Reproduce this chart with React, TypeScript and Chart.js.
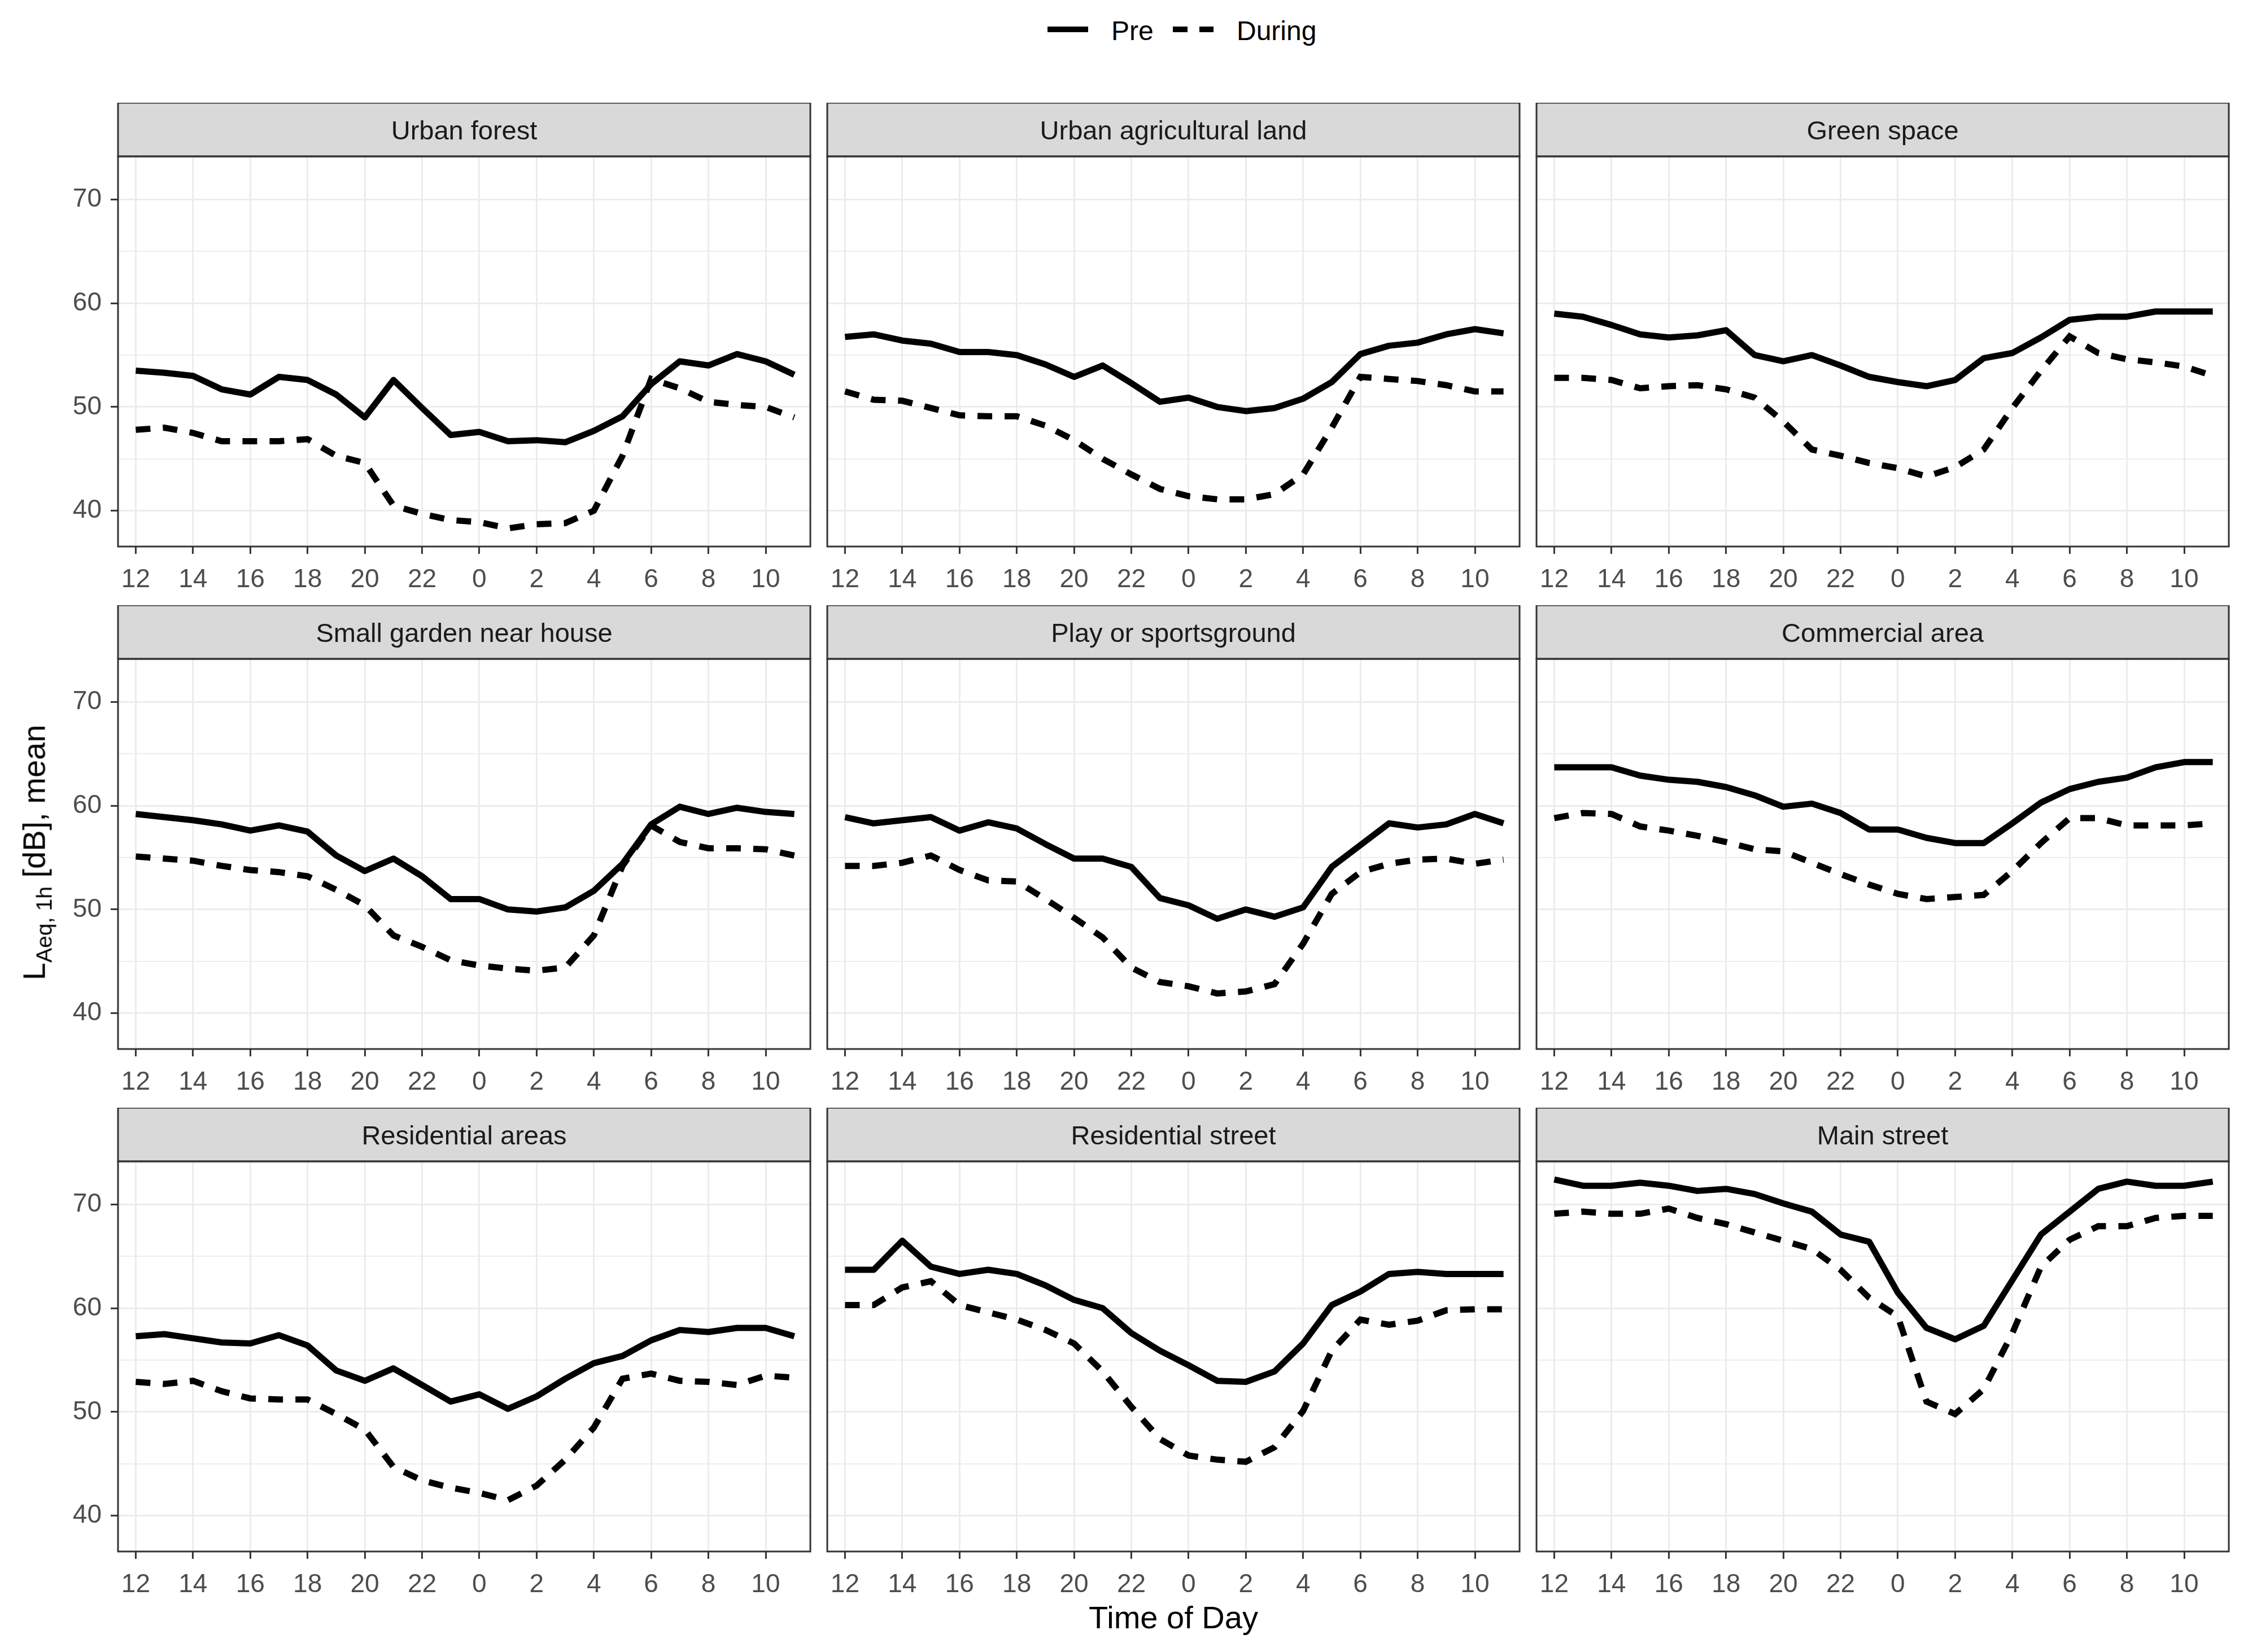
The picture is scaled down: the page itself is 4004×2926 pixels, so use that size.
import React, { useEffect, useRef } from 'react';
import { Chart, registerables } from 'chart.js';

Chart.register(...registerables);

// ---------- data ----------
const HOURS = [12, 13, 14, 15, 16, 17, 18, 19, 20, 21, 22, 23, 0, 1, 2, 3, 4, 5, 6, 7, 8, 9, 10, 11];
const TICK_HOURS = [12, 14, 16, 18, 20, 22, 0, 2, 4, 6, 8, 10];
const Y_TICKS = [40, 45, 50, 55, 60, 65, 70];
const Y_LABELED = [40, 50, 60, 70];
const SERIES_NAMES = ['Pre', 'During'];
const PANEL_TITLES = [
  'Urban forest',
  'Urban agricultural land',
  'Green space',
  'Small garden near house',
  'Play or sportsground',
  'Commercial area',
  'Residential areas',
  'Residential street',
  'Main street',
];

const URBAN_FOREST_PRE = [53.5, 53.3, 53.0, 51.7, 51.2, 52.9, 52.6, 51.2, 49.0, 52.6, 49.9, 47.3, 47.6, 46.7, 46.8, 46.6, 47.7, 49.1, 52.2, 54.4, 54.0, 55.1, 54.4, 53.1];
const URBAN_FOREST_DURING = [47.8, 48.0, 47.5, 46.7, 46.7, 46.7, 46.9, 45.3, 44.6, 40.5, 39.7, 39.1, 38.9, 38.3, 38.7, 38.8, 40.0, 45.3, 52.7, 51.8, 50.5, 50.2, 50.0, 49.0];
const URBAN_AG_PRE = [56.75, 57.0, 56.4, 56.1, 55.3, 55.3, 55.0, 54.1, 52.9, 54.0, 52.3, 50.5, 50.9, 50.0, 49.6, 49.9, 50.8, 52.4, 55.1, 55.9, 56.2, 57.0, 57.5, 57.1];
const URBAN_AG_DURING = [51.5, 50.7, 50.6, 49.9, 49.2, 49.1, 49.1, 48.2, 46.8, 45.0, 43.5, 42.1, 41.4, 41.1, 41.1, 41.6, 43.5, 48.0, 52.9, 52.7, 52.5, 52.1, 51.5, 51.5];
const GREEN_PRE = [59.0, 58.7, 57.9, 57.0, 56.7, 56.9, 57.4, 55.0, 54.4, 55.0, 54.0, 52.9, 52.4, 52.0, 52.6, 54.7, 55.2, 56.7, 58.4, 58.7, 58.7, 59.2, 59.2, 59.2];
const GREEN_DURING = [52.8, 52.8, 52.6, 51.8, 52.0, 52.1, 51.7, 50.9, 48.6, 45.9, 45.3, 44.6, 44.1, 43.3, 44.2, 45.9, 49.9, 53.5, 56.8, 55.2, 54.6, 54.3, 53.9, 53.0];
const GARDEN_PRE = [59.2, 58.9, 58.6, 58.2, 57.6, 58.1, 57.5, 55.2, 53.7, 54.9, 53.2, 51.0, 51.0, 50.0, 49.8, 50.2, 51.8, 54.4, 58.2, 59.9, 59.2, 59.8, 59.4, 59.2];
const GARDEN_DURING = [55.1, 54.9, 54.7, 54.2, 53.8, 53.6, 53.2, 51.9, 50.4, 47.5, 46.4, 45.1, 44.6, 44.3, 44.1, 44.4, 47.5, 54.2, 58.1, 56.5, 55.9, 55.9, 55.8, 55.2];
const PLAY_PRE = [58.9, 58.3, 58.6, 58.9, 57.6, 58.4, 57.8, 56.3, 54.9, 54.9, 54.1, 51.1, 50.4, 49.1, 50.0, 49.3, 50.2, 54.1, 56.2, 58.3, 57.9, 58.2, 59.2, 58.3];
const PLAY_DURING = [54.2, 54.2, 54.5, 55.2, 53.8, 52.8, 52.7, 51.0, 49.2, 47.3, 44.4, 43.0, 42.6, 41.9, 42.1, 42.8, 46.7, 51.5, 53.6, 54.4, 54.8, 54.9, 54.4, 54.8];
const COMMERCIAL_PRE = [63.7, 63.7, 63.7, 62.9, 62.5, 62.3, 61.8, 61.0, 59.9, 60.2, 59.3, 57.7, 57.7, 56.9, 56.4, 56.4, 58.3, 60.3, 61.6, 62.3, 62.7, 63.7, 64.2, 64.2];
const COMMERCIAL_DURING = [58.8, 59.3, 59.2, 58.0, 57.6, 57.1, 56.5, 55.8, 55.6, 54.5, 53.4, 52.4, 51.5, 51.0, 51.2, 51.4, 53.7, 56.4, 58.8, 58.8, 58.1, 58.1, 58.1, 58.3];
const RES_AREAS_PRE = [57.3, 57.5, 57.1, 56.7, 56.6, 57.4, 56.4, 54.0, 53.0, 54.2, 52.6, 51.0, 51.7, 50.3, 51.5, 53.2, 54.7, 55.4, 56.9, 57.9, 57.7, 58.1, 58.1, 57.3];
const RES_AREAS_DURING = [52.9, 52.7, 53.0, 52.0, 51.3, 51.2, 51.2, 49.8, 48.3, 44.7, 43.4, 42.7, 42.2, 41.5, 42.9, 45.4, 48.5, 53.2, 53.7, 53.0, 52.9, 52.6, 53.5, 53.3];
const RES_STREET_PRE = [63.7, 63.7, 66.5, 64.0, 63.3, 63.7, 63.3, 62.2, 60.8, 60.0, 57.6, 55.9, 54.5, 53.0, 52.9, 53.9, 56.6, 60.3, 61.6, 63.3, 63.5, 63.3, 63.3, 63.3];
const RES_STREET_DURING = [60.3, 60.3, 62.0, 62.6, 60.3, 59.6, 58.9, 57.9, 56.6, 53.9, 50.5, 47.4, 45.8, 45.4, 45.2, 46.6, 50.1, 55.9, 58.9, 58.4, 58.8, 59.8, 59.9, 59.9];
const MAIN_PRE = [72.4, 71.8, 71.8, 72.1, 71.8, 71.3, 71.5, 71.0, 70.1, 69.3, 67.1, 66.4, 61.5, 58.1, 57.0, 58.3, 62.7, 67.1, 69.3, 71.5, 72.2, 71.8, 71.8, 72.2];
const MAIN_DURING = [69.1, 69.3, 69.1, 69.1, 69.6, 68.7, 68.1, 67.3, 66.5, 65.7, 63.7, 61.0, 59.2, 51.0, 49.8, 52.2, 57.6, 64.0, 66.6, 67.9, 67.9, 68.7, 68.9, 68.9];

const PANELS = [
  { title: PANEL_TITLES[0], pre: URBAN_FOREST_PRE, during: URBAN_FOREST_DURING },
  { title: PANEL_TITLES[1], pre: URBAN_AG_PRE, during: URBAN_AG_DURING },
  { title: PANEL_TITLES[2], pre: GREEN_PRE, during: GREEN_DURING },
  { title: PANEL_TITLES[3], pre: GARDEN_PRE, during: GARDEN_DURING },
  { title: PANEL_TITLES[4], pre: PLAY_PRE, during: PLAY_DURING },
  { title: PANEL_TITLES[5], pre: COMMERCIAL_PRE, during: COMMERCIAL_DURING },
  { title: PANEL_TITLES[6], pre: RES_AREAS_PRE, during: RES_AREAS_DURING },
  { title: PANEL_TITLES[7], pre: RES_STREET_PRE, during: RES_STREET_DURING },
  { title: PANEL_TITLES[8], pre: MAIN_PRE, during: MAIN_DURING },
];

// ---------- layout / style ----------
const FONT = '"Liberation Sans", Arial, sans-serif';
const COL_LEFT = [209, 1465, 2721];
const ROW_TOP = [182, 1072, 1962];
const PLOT_W = 1226;
const PLOT_H = 691;
const STRIP_H = 95;
const BPAD = 85;
const RPAD = 10;
const X_MIN = -0.62;
const X_MAX = 23.56;
const Y_MIN = 36.55;
const Y_MAX = 74.15;
const DASH = [26, 22];

Chart.defaults.font.family = FONT;

const panelDecor = (title: string) => ({
  id: 'panelDecor',
  afterDraw(chart: any) {
    const { ctx, chartArea: a } = chart;
    ctx.save();
    ctx.fillStyle = '#D9D9D9';
    ctx.fillRect(a.left, a.top - STRIP_H, a.right - a.left, STRIP_H);
    ctx.strokeStyle = '#333333';
    ctx.lineWidth = 3;
    ctx.strokeRect(a.left, a.top - STRIP_H, a.right - a.left, STRIP_H);
    ctx.strokeRect(a.left, a.top, a.right - a.left, a.bottom - a.top);
    ctx.fillStyle = '#1A1A1A';
    ctx.font = `47px ${FONT}`;
    ctx.textAlign = 'center';
    ctx.textBaseline = 'middle';
    ctx.fillText(title, (a.left + a.right) / 2, a.top - STRIP_H / 2 + 5);
    ctx.restore();
  },
});

function Panel({ index }: { index: number }) {
  const ref = useRef<HTMLCanvasElement | null>(null);
  const col = index % 3;
  const row = Math.floor(index / 3);
  const showY = col === 0;
  const lpad = showY ? 200 : 20;
  const width = lpad + PLOT_W + RPAD;
  const height = STRIP_H + PLOT_H + BPAD;
  const panel = PANELS[index];

  useEffect(() => {
    if (!ref.current) return;
    const chart = new Chart(ref.current, {
      type: 'line',
      data: {
        datasets: [
          {
            label: SERIES_NAMES[0],
            data: panel.pre.map((y, i) => ({ x: i, y })),
            borderColor: '#000000',
            borderWidth: 11,
            pointRadius: 0,
            tension: 0,
            borderJoinStyle: 'round',
            borderCapStyle: 'butt',
            fill: false,
          },
          {
            label: SERIES_NAMES[1],
            data: panel.during.map((y, i) => ({ x: i, y })),
            borderColor: '#000000',
            borderWidth: 11,
            borderDash: DASH,
            pointRadius: 0,
            tension: 0,
            borderJoinStyle: 'miter',
            borderCapStyle: 'butt',
            fill: false,
          },
        ],
      },
      options: {
        animation: false,
        responsive: false,
        devicePixelRatio: 1,
        events: [],
        layout: { padding: { top: STRIP_H, right: RPAD, left: 0, bottom: 0 } },
        plugins: {
          legend: { display: false },
          tooltip: { enabled: false },
          title: { display: false },
        },
        scales: {
          x: {
            type: 'linear',
            min: X_MIN,
            max: X_MAX,
            afterBuildTicks: (s: any) => {
              s.ticks = TICK_HOURS.map((h) => ({ value: HOURS.indexOf(h) }));
            },
            afterFit: (s: any) => {
              s.height = BPAD;
            },
            ticks: {
              autoSkip: false,
              maxRotation: 0,
              color: '#4D4D4D',
              font: { size: 46, family: FONT },
              padding: 19,
              callback: (v: any) => String(HOURS[Math.round(Number(v))]),
            },
            grid: {
              color: '#EBEBEB',
              lineWidth: 2.8,
              tickColor: '#333333',
              tickLength: 13,
              tickWidth: 3,
            },
            border: { display: false },
          },
          y: {
            type: 'linear',
            min: Y_MIN,
            max: Y_MAX,
            afterBuildTicks: (s: any) => {
              s.ticks = Y_TICKS.map((v) => ({ value: v }));
            },
            afterFit: (s: any) => {
              s.width = lpad;
            },
            ticks: {
              display: showY,
              color: '#4D4D4D',
              font: { size: 46, family: FONT },
              padding: 16,
              callback: (v: any) => (Y_LABELED.includes(Number(v)) ? String(v) : ''),
            },
            grid: {
              color: '#EBEBEB',
              lineWidth: (c: any) => (c.tick && Y_LABELED.includes(c.tick.value) ? 2.8 : 1.8),
              drawTicks: showY,
              tickColor: (c: any) =>
                c.tick && Y_LABELED.includes(c.tick.value) ? '#333333' : 'rgba(0,0,0,0)',
              tickLength: 13,
              tickWidth: 3,
            },
            border: { display: false },
          },
        },
      },
      plugins: [panelDecor(panel.title)],
    } as any);
    return () => chart.destroy();
  }, []);

  return (
    <canvas
      ref={ref}
      width={width}
      height={height}
      style={{
        position: 'absolute',
        left: COL_LEFT[col] - lpad,
        top: ROW_TOP[row],
        width,
        height,
      }}
    />
  );
}

export default function App() {
  const textBase: React.CSSProperties = {
    position: 'absolute',
    fontFamily: FONT,
    whiteSpace: 'nowrap',
    lineHeight: 1,
  };
  return (
    <div
      style={{
        position: 'absolute',
        left: 0,
        top: 0,
        width: 4004,
        height: 2926,
        background: '#FFFFFF',
        overflow: 'hidden',
        fontFamily: FONT,
      }}
    >
      {/* legend */}
      <div style={{ position: 'absolute', left: 1855, top: 47, width: 72, height: 10, background: '#000' }} />
      <div style={{ ...textBase, left: 1968, top: 55, fontSize: 48, color: '#000', transform: 'translateY(-50%)' }}>
        {SERIES_NAMES[0]}
      </div>
      <div style={{ position: 'absolute', left: 2077, top: 47, width: 26, height: 10, background: '#000' }} />
      <div style={{ position: 'absolute', left: 2124, top: 47, width: 25, height: 10, background: '#000' }} />
      <div style={{ ...textBase, left: 2190, top: 55, fontSize: 48, color: '#000', transform: 'translateY(-50%)' }}>
        {SERIES_NAMES[1]}
      </div>

      {PANELS.map((_, i) => (
        <Panel key={i} index={i} />
      ))}

      {/* y axis title */}
      <div
        style={{
          ...textBase,
          left: 65,
          top: 1510,
          fontSize: 56,
          color: '#000',
          transform: 'translate(-50%, -50%) rotate(-90deg)',
        }}
      >
        L<sub style={{ fontSize: '0.7em', verticalAlign: '-0.3em' }}>Aeq, 1h</sub> [dB], mean
      </div>

      {/* x axis title */}
      <div
        style={{
          ...textBase,
          left: 2078,
          top: 2865,
          fontSize: 56,
          color: '#000',
          transform: 'translate(-50%, -50%)',
        }}
      >
        Time of Day
      </div>
    </div>
  );
}
